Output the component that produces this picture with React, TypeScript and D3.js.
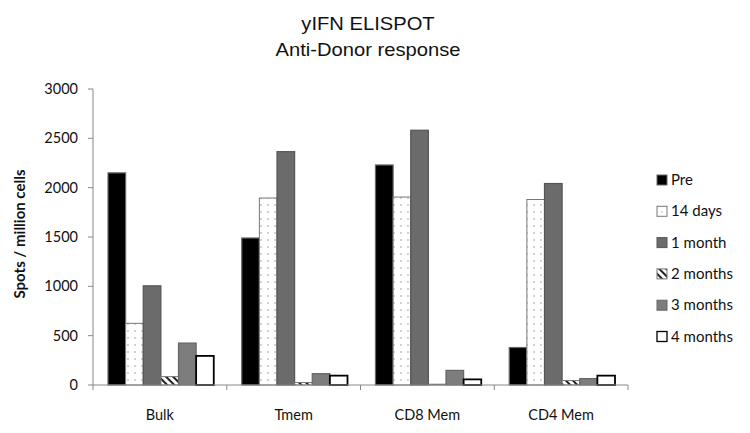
import React from "react";
import * as d3 from "d3";

const categories = ["Bulk", "Tmem", "CD8 Mem", "CD4 Mem"];
const seriesNames = ["Pre", "14  days", "1 month", "2 months", "3 months", "4 months"];
const pre = [2150, 1490, 2230, 380];
const days14 = [625, 1895, 1905, 1880];
const month1 = [1005, 2365, 2582, 2042];
const months2 = [85, 25, 8, 45];
const months3 = [425, 115, 148, 65];
const months4 = [295, 95, 57, 95];
const seriesValues = [pre, days14, month1, months2, months3, months4];
const yTicks = [0, 500, 1000, 1500, 2000, 2500, 3000];

const W = 750, H = 433;
const left = 93, right = 628, top = 89, bottom = 385;

const fills = ["#000000", "url(#dots)", "#6b6b6b", "url(#hatch)", "#7d7d7d", "#ffffff"];
const strokes = ["#666", "#777", "#555", "#777", "#666", "#000"];
const strokeW = [1.2, 1, 1.2, 1, 1.2, 1.8];

export default function App() {
  const x0 = d3.scaleBand<string>().domain(categories).range([left, right]).paddingInner(0).paddingOuter(0);
  const inner = d3.scaleBand<number>().domain(d3.range(seriesNames.length)).range([15, x0.bandwidth() - 13]).padding(0);
  const y = d3.scaleLinear().domain([0, 3000]).range([bottom, top]);
  const font = "'Liberation Sans', Arial, sans-serif";
  const calib = "Lato, 'Open Sans', sans-serif";

  return (
    <svg width={W} height={H} style={{ position: "absolute", left: 0, top: 0, background: "#fff" }}>
      <defs>
        <pattern id="dots" width="7" height="7" patternUnits="userSpaceOnUse">
          <rect width="7" height="7" fill="#fff" />
          <circle cx="2" cy="2" r="0.8" fill="#999" />
        </pattern>
        <pattern id="hatch" width="5" height="5" patternUnits="userSpaceOnUse" patternTransform="rotate(-45)">
          <rect width="5" height="5" fill="#fff" />
          <rect width="2" height="5" fill="#222" />
        </pattern>
        <pattern id="ldots" width="6" height="6" patternUnits="userSpaceOnUse">
          <rect width="6" height="6" fill="#fff" />
          <circle cx="2" cy="2" r="0.7" fill="#999" />
        </pattern>
      </defs>
      <rect width={W} height={H} fill="#fff" />
      <text transform="translate(368,29.5) scale(1.12,1)" textAnchor="middle" fontFamily={font} fontSize={18} fill="#111">yIFN ELISPOT</text>
      <text transform="translate(368,55.5) scale(1.12,1)" textAnchor="middle" fontFamily={font} fontSize={18} fill="#111">Anti-Donor response</text>

      {/* y axis */}
      <line x1={left} x2={left} y1={top} y2={bottom} stroke="#888" />
      {yTicks.map((t) => (
        <g key={t}>
          <line x1={left - 5} x2={left} y1={y(t)} y2={y(t)} stroke="#888" />
          <text x={78} y={y(t) + 5} textAnchor="end" fontFamily={calib} fontSize={14.5} fill="#111">{t}</text>
        </g>
      ))}
      <text transform={`translate(25,234) rotate(-90)`} textAnchor="middle" fontFamily={calib} fontWeight="bold" fontSize={15} fill="#111">Spots / million cells</text>

      {/* bars */}
      {categories.map((c, ci) => (
        <g key={c}>
          {seriesValues.map((vals, si) => (
            <rect key={si}
              x={(x0(c) as number) + (inner(si) as number)}
              y={y(vals[ci])}
              width={inner.bandwidth()}
              height={bottom - y(vals[ci])}
              fill={fills[si]} stroke={strokes[si]} strokeWidth={strokeW[si]} />
          ))}
        </g>
      ))}

      {/* x axis */}
      <line x1={left} x2={right} y1={bottom} y2={bottom} stroke="#888" />
      {[...categories.map((c) => x0(c) as number), right].map((xv, i) => (
        <line key={i} x1={xv} x2={xv} y1={bottom} y2={bottom + 5} stroke="#888" />
      ))}
      {categories.map((c) => (
        <text key={c} x={(x0(c) as number) + x0.bandwidth() / 2} y={420} textAnchor="middle" fontFamily={calib} fontSize={14.5} fill="#111">{c}</text>
      ))}

      {/* legend */}
      {seriesNames.map((n, i) => {
        const by = 185 + i * 31.3;
        const lf = i === 1 ? "url(#ldots)" : fills[i];
        return (
          <g key={n}>
            <rect x={657} y={by - 10} width={10} height={10} fill={lf} stroke={i === 5 ? "#000" : strokes[i]} strokeWidth={i === 5 ? 1.3 : 1} />
            <text x={671} y={by} fontFamily={calib} fontSize={15} fill="#111">{n}</text>
          </g>
        );
      })}
    </svg>
  );
}
